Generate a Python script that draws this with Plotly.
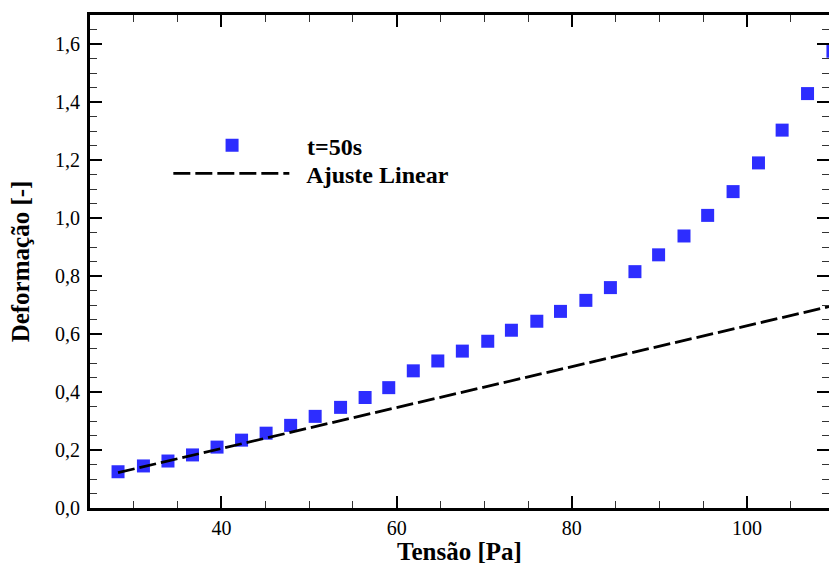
import plotly.graph_objects as go

# Measured creep data at t = 50 s
tensao = [28.2, 31.1, 33.9, 36.7, 39.5, 42.3, 45.1, 47.9, 50.7, 53.6,
          56.4, 59.1, 61.9, 64.7, 67.5, 70.4, 73.1, 76.0, 78.7, 81.6,
          84.4, 87.2, 89.9, 92.8, 95.5, 98.4, 101.3, 104.0, 106.9, 109.8]
deformacao = [0.125, 0.145, 0.162, 0.183, 0.210, 0.234, 0.258, 0.285, 0.316, 0.347,
              0.381, 0.415, 0.473, 0.507, 0.541, 0.575, 0.613, 0.644, 0.678, 0.716,
              0.760, 0.815, 0.873, 0.938, 1.009, 1.091, 1.190, 1.303, 1.429, 1.575]

# Linear fit over the low-stress region
ajuste_x = [28.2, 110.0]
ajuste_y = [0.122, 0.699]

serie_nome = "t=50s"
ajuste_nome = "Ajuste Linear"
x_titulo = "Tensão [Pa]"
y_titulo = "Deformação [-]"

FONT = "Liberation Serif"
PAD = "\u00a0\u00a0"  # gap between legend key and label

fig = go.Figure()
fig.add_trace(go.Scatter(
    x=tensao, y=deformacao, mode="markers", name=PAD + serie_nome,
    legend="legend",
    marker=dict(symbol="square", size=13, color="rgb(45,45,255)", line=dict(width=0)),
))
fig.add_trace(go.Scatter(
    x=ajuste_x, y=ajuste_y, mode="lines", name=PAD + ajuste_nome,
    legend="legend2",
    line=dict(color="black", width=2.8, dash="17px,5px"),
))
# invisible trace carrying the right-hand tick marks
fig.add_trace(go.Scatter(x=[None], y=[None], yaxis="y2", showlegend=False, hoverinfo="skip"))

axis_common = dict(
    showgrid=False, zeroline=False,
    linecolor="black", linewidth=3,
    ticks="inside", ticklen=12, tickwidth=2, tickcolor="black",
    tickfont=dict(family=FONT, size=20, color="black"),
)

legend_common = dict(
    xanchor="left", yanchor="middle",
    bgcolor="rgba(0,0,0,0)", borderwidth=0,
    itemwidth=116,
    font=dict(family=FONT, size=24, color="black", weight="bold"),
)

fig.update_layout(
    width=829, height=565,
    margin=dict(l=90, r=0, t=15, b=52),
    paper_bgcolor="white", plot_bgcolor="white",
    separators=",.",
    font=dict(family=FONT, color="black"),
    xaxis=dict(
        axis_common, range=[25, 109.35], dtick=20, tick0=0,
        showline=True, mirror="ticks",
        minor=dict(ticks="inside", ticklen=7, tickwidth=1.3, tickcolor="#333", dtick=5),
        title=dict(text=x_titulo, font=dict(family=FONT, size=25, weight="bold"), standoff=8),
    ),
    yaxis=dict(
        axis_common, range=[0, 1.7], dtick=0.2, tick0=0, tickformat=".1f",
        showline=True, mirror=False, ticklabelstandoff=3,
        minor=dict(ticks="inside", ticklen=7, tickwidth=1.3, tickcolor="#333", dtick=0.05),
        title=dict(text=y_titulo, font=dict(family=FONT, size=25, weight="bold"), standoff=19),
    ),
    yaxis2=dict(
        overlaying="y", side="right", range=[0, 1.7], dtick=0.2, tick0=0,
        showgrid=False, zeroline=False, showline=False, showticklabels=False,
        ticks="inside", ticklen=12, tickwidth=2, tickcolor="black",
        minor=dict(ticks="inside", ticklen=7, tickwidth=1.3, tickcolor="#333", dtick=0.05),
    ),
    legend=dict(legend_common, x=0.107, y=0.735),
    legend2=dict(legend_common, x=0.106, y=0.678),
    showlegend=True,
)

fig.write_html("out.html")
